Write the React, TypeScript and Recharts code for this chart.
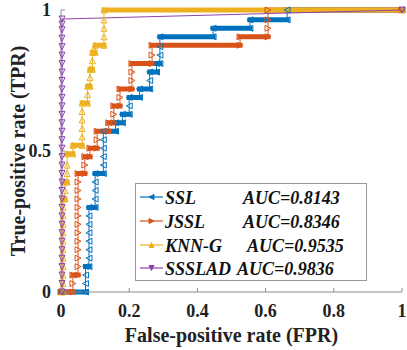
import React from 'react';
import { LineChart, Line, XAxis, YAxis, Legend } from 'recharts';

type Pt = [number, number];

// ROC points: [FPR, TPR]
const sslPoints: Pt[] = [
  [0, 0], [0.072, 0],
  [0.072, 0.03], [0.072, 0.06], [0.072, 0.09], [0.082, 0.09],
  [0.082, 0.12], [0.082, 0.15], [0.082, 0.18], [0.082, 0.21], [0.082, 0.24], [0.082, 0.27], [0.082, 0.3], [0.1, 0.3],
  [0.1, 0.33], [0.1, 0.36], [0.1, 0.39], [0.1, 0.42], [0.124, 0.42],
  [0.124, 0.45], [0.124, 0.48], [0.124, 0.51], [0.124, 0.54], [0.124, 0.57], [0.16, 0.57],
  [0.16, 0.6], [0.18, 0.6], [0.18, 0.63], [0.2, 0.63], [0.2, 0.66], [0.2, 0.69], [0.23, 0.69],
  [0.23, 0.72], [0.26, 0.72], [0.26, 0.75], [0.26, 0.78], [0.28, 0.78], [0.28, 0.81], [0.29, 0.81],
  [0.29, 0.84], [0.29, 0.87], [0.29, 0.905], [0.446, 0.905], [0.446, 0.935], [0.554, 0.935],
  [0.554, 0.965], [0.663, 0.965], [0.663, 1], [1, 1],
];

const jsslPoints: Pt[] = [
  [0, 0], [0.035, 0],
  [0.035, 0.03], [0.035, 0.06], [0.05, 0.06],
  [0.05, 0.09], [0.05, 0.12], [0.05, 0.15], [0.05, 0.18], [0.05, 0.21], [0.05, 0.24], [0.05, 0.27],
  [0.05, 0.3], [0.05, 0.33], [0.05, 0.36], [0.05, 0.39], [0.05, 0.42], [0.07, 0.42],
  [0.07, 0.45], [0.07, 0.48], [0.085, 0.48], [0.085, 0.51], [0.106, 0.51],
  [0.106, 0.54], [0.106, 0.57], [0.14, 0.57], [0.14, 0.6], [0.155, 0.6],
  [0.155, 0.63], [0.155, 0.66], [0.173, 0.66], [0.173, 0.69], [0.173, 0.72], [0.208, 0.72],
  [0.208, 0.75], [0.208, 0.78], [0.208, 0.81], [0.267, 0.81], [0.267, 0.84], [0.267, 0.875],
  [0.525, 0.875], [0.525, 0.905], [0.607, 0.905], [0.607, 0.935], [0.607, 0.965], [0.607, 1], [1, 1],
];

const knnPoints: Pt[] = [
  [0.006, 0], [0.006, 0.03], [0.006, 0.06], [0.006, 0.09], [0.006, 0.12], [0.006, 0.15], [0.006, 0.18],
  [0.006, 0.21], [0.006, 0.24], [0.006, 0.27], [0.006, 0.3], [0.006, 0.33], [0.012, 0.33],
  [0.012, 0.36], [0.012, 0.39], [0.018, 0.39], [0.018, 0.42], [0.018, 0.45], [0.018, 0.49], [0.035, 0.49],
  [0.035, 0.52], [0.062, 0.52], [0.062, 0.55], [0.062, 0.58], [0.062, 0.61], [0.062, 0.64], [0.062, 0.67],
  [0.078, 0.67], [0.078, 0.7], [0.078, 0.73], [0.085, 0.73], [0.085, 0.76], [0.085, 0.79], [0.092, 0.79],
  [0.092, 0.82], [0.092, 0.85], [0.1, 0.85], [0.1, 0.875], [0.126, 0.875],
  [0.126, 0.905], [0.126, 0.935], [0.126, 0.965], [0.126, 1], [1, 1],
];

const ssslPoints: Pt[] = [
  [0.003, 0], [0.003, 0.03], [0.003, 0.06], [0.003, 0.09], [0.003, 0.12], [0.003, 0.15], [0.003, 0.18],
  [0.003, 0.21], [0.003, 0.24], [0.003, 0.27], [0.003, 0.3], [0.003, 0.33], [0.003, 0.36], [0.003, 0.39],
  [0.003, 0.42], [0.003, 0.45], [0.003, 0.48], [0.003, 0.51], [0.003, 0.54], [0.003, 0.57], [0.003, 0.6],
  [0.003, 0.63], [0.003, 0.66], [0.003, 0.69], [0.003, 0.72], [0.003, 0.75], [0.003, 0.78], [0.003, 0.81],
  [0.003, 0.84], [0.003, 0.87], [0.003, 0.9], [0.003, 0.93], [0.003, 0.95], [0.003, 0.968], [1, 1],
];

const seriesNames = ['SSL', 'JSSL', 'KNN-G', 'SSSLAD'];
const aucLabels = ['AUC=0.8143', 'AUC=0.8346', 'AUC=0.9535', 'AUC=0.9836'];
const xTicks = [0, 0.2, 0.4, 0.6, 0.8, 1];
const yTicks = [0, 0.5, 1];

const allPoints = [sslPoints, jsslPoints, knnPoints, ssslPoints];
const colors = ['#0072BD', '#D95319', '#EDB120', '#8E44A8'];
const markerKinds = ['left', 'right', 'up', 'down'];

const axisColor = '#8c8c8c';
const serif = '"Liberation Serif", "Times New Roman", serif';

const toRows = (pts: Pt[]) => pts.map(([x, y]) => ({ x, y }));

// horizontal runs in the figure are packed markers, drawn as thick bars
const toBars = (pts: Pt[]) => {
  const out: { x: number; y: number | null }[] = [];
  for (let i = 1; i < pts.length; i++) {
    const [x0, y0] = pts[i - 1];
    const [x1, y1] = pts[i];
    if (y0 === y1 && x1 > x0) out.push({ x: x0, y: y0 }, { x: x1, y: y1 }, { x: x1, y: null });
  }
  return out;
};

const triangle = (kind: string, cx: number, cy: number, r = 3) => {
  if (kind === 'left') return `${cx - r},${cy} ${cx + r},${cy - r} ${cx + r},${cy + r}`;
  if (kind === 'right') return `${cx + r},${cy} ${cx - r},${cy - r} ${cx - r},${cy + r}`;
  if (kind === 'up') return `${cx},${cy - r} ${cx - r},${cy + r} ${cx + r},${cy + r}`;
  return `${cx},${cy + r} ${cx - r},${cy - r} ${cx + r},${cy - r}`;
};

const makeDot = (kind: string, color: string, name: string) => (props: any) => {
  const { cx, cy, index } = props;
  if (cx == null || cy == null) return <g key={`${name}-${index}`} />;
  return (
    <polygon key={`${name}-${index}`} points={triangle(kind, cx, cy)} fill="none" stroke={color} strokeWidth={1} />
  );
};

const fmt = (v: number) => String(v);

const BottomTick = (props: any) => {
  const { x, y, payload } = props;
  return (
    <g>
      <line x1={x} y1={y} x2={x} y2={y - 4} stroke={axisColor} />
      <text x={x} y={y + 25} textAnchor="middle" fontFamily={serif} fontWeight="bold" fontSize={18} fill="#222">
        {fmt(payload.value)}
      </text>
    </g>
  );
};

const TopTick = (props: any) => {
  const { x, y } = props;
  return <line x1={x} y1={y} x2={x} y2={y + 4} stroke={axisColor} />;
};

const LeftTick = (props: any) => {
  const { x, y, payload } = props;
  return (
    <g>
      <line x1={x} y1={y} x2={x + 4} y2={y} stroke={axisColor} />
      <text x={x - 10} y={y + 6} textAnchor="end" fontFamily={serif} fontWeight="bold" fontSize={18} fill="#222">
        {fmt(payload.value)}
      </text>
    </g>
  );
};

const RightTick = (props: any) => {
  const { x, y } = props;
  return <line x1={x} y1={y} x2={x - 4} y2={y} stroke={axisColor} />;
};

const legendRowY = [14, 38, 62, 85];
const legendAucX = [108, 108, 112, 102];

const LegendBox = () => (
  <svg width={232} height={98} style={{ display: 'block' }}>
    <rect x={0.5} y={0.5} width={231} height={97} fill="#fff" stroke="#999" />
    {seriesNames.map((name, i) => (
      <g key={name}>
        <line x1={5} y1={legendRowY[i]} x2={28} y2={legendRowY[i]} stroke={colors[i]} strokeWidth={1.2} />
        <polygon points={triangle(markerKinds[i], 16.5, legendRowY[i], 2.5)} fill={colors[i]} stroke={colors[i]} />
        <text x={30} y={legendRowY[i] + 6.5} fontFamily={serif} fontWeight="bold" fontStyle="italic" fontSize={18} fill="#111">
          {name}
        </text>
        <text x={legendAucX[i]} y={legendRowY[i] + 6.5} fontFamily={serif} fontWeight="bold" fontStyle="italic" fontSize={18} fill="#111">
          {aucLabels[i]}
        </text>
      </g>
    ))}
  </svg>
);

export default function App() {
  return (
    <div style={{ position: 'absolute', left: 0, top: 0, width: 407, height: 350, background: '#fff' }}>
      <LineChart width={407} height={350} margin={{ top: 10, right: 5, bottom: 0, left: 0 }}>
        <XAxis
          dataKey="x"
          type="number"
          domain={[0, 1]}
          ticks={xTicks}
          height={58}
          tickSize={0}
          tickMargin={0}
          tickLine={false}
          axisLine={{ stroke: axisColor }}
          tick={<BottomTick />}
          label={{
            value: 'False-positive rate (FPR)',
            position: 'insideBottom',
            offset: 8,
            style: { fontFamily: serif, fontWeight: 'bold', fontSize: 20, fill: '#222' },
          }}
        />
        <XAxis
          xAxisId="top"
          orientation="top"
          dataKey="x"
          type="number"
          domain={[0, 1]}
          ticks={xTicks}
          height={0}
          tickSize={0}
          tickMargin={0}
          tickLine={false}
          axisLine={{ stroke: axisColor }}
          tick={<TopTick />}
        />
        <YAxis
          type="number"
          domain={[0, 1]}
          ticks={yTicks}
          width={61}
          tickSize={0}
          tickMargin={0}
          tickLine={false}
          axisLine={{ stroke: axisColor }}
          tick={<LeftTick />}
          label={{
            value: 'True-positive rate (TPR)',
            angle: -90,
            position: 'insideLeft',
            offset: 18,
            style: { fontFamily: serif, fontWeight: 'bold', fontSize: 20, fill: '#222', textAnchor: 'middle' },
          }}
        />
        <YAxis
          yAxisId="right"
          orientation="right"
          type="number"
          domain={[0, 1]}
          ticks={yTicks}
          width={0}
          tickSize={0}
          tickMargin={0}
          tickLine={false}
          axisLine={{ stroke: axisColor }}
          tick={<RightTick />}
        />
        {allPoints.map((pts, i) => [
          <Line
            key={`line-${i}`}
            data={toRows(pts)}
            dataKey="y"
            type="linear"
            stroke={colors[i]}
            strokeWidth={1}
            dot={makeDot(markerKinds[i], colors[i], seriesNames[i])}
            activeDot={false}
            isAnimationActive={false}
            legendType="none"
          />,
          <Line
            key={`bar-${i}`}
            data={toBars(pts)}
            dataKey="y"
            type="linear"
            stroke={colors[i]}
            strokeWidth={5}
            strokeLinecap="square"
            dot={false}
            activeDot={false}
            isAnimationActive={false}
            legendType="none"
          />,
        ])}
        <Legend
          layout="vertical"
          align="center"
          verticalAlign="middle"
          wrapperStyle={{ left: 135, top: 183, width: 232, height: 98 }}
          content={<LegendBox />}
        />
      </LineChart>
    </div>
  );
}
